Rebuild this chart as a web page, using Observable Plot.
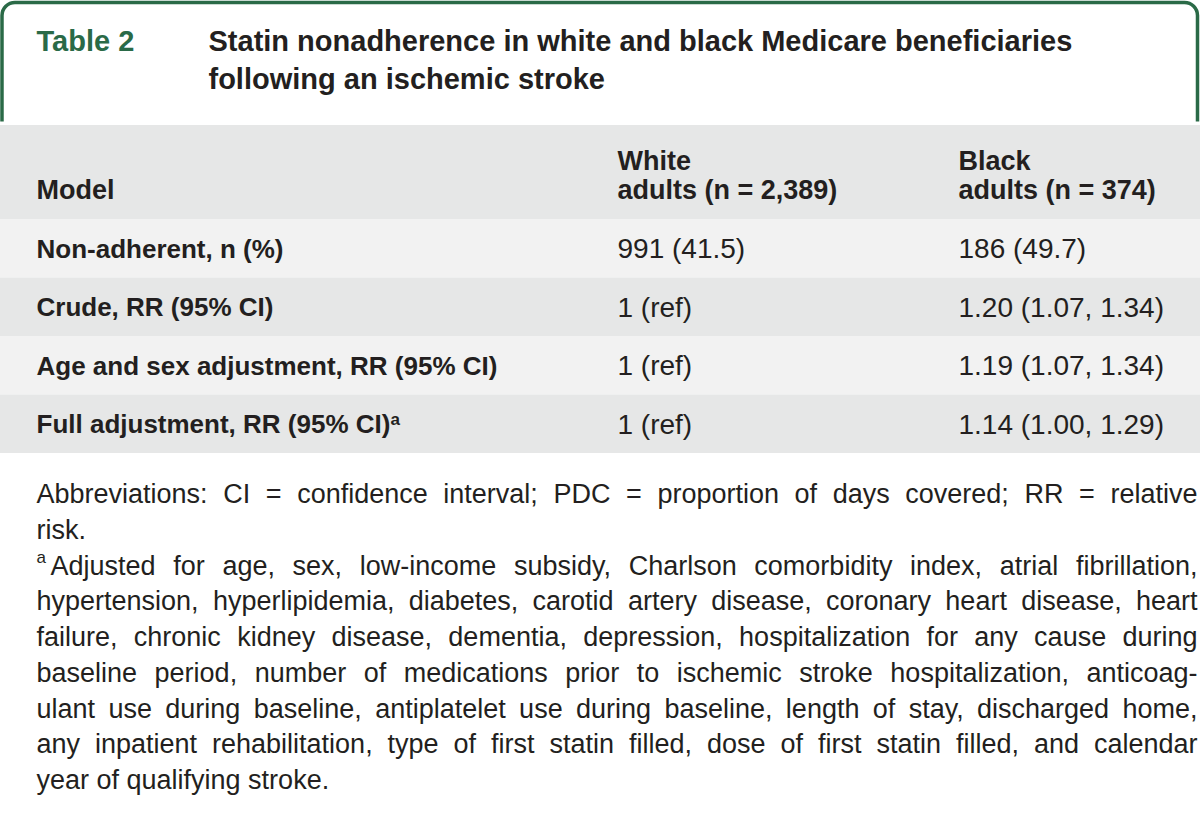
<!DOCTYPE html>
<html>
<head>
<meta charset="utf-8">
<script src="https://cdn.jsdelivr.net/npm/d3@7"></script>
<script src="https://cdn.jsdelivr.net/npm/@observablehq/plot@0.6"></script>
<style>
  html, body { margin: 0; padding: 0; background: #ffffff; }
  #chart svg { display: block; }
</style>
</head>
<body>
<div id="chart"></div>
<script>
// ---------------- DATA ----------------
const tableNumber = "Table 2";
const titleLines = [
  "Statin nonadherence in white and black Medicare beneficiaries",
  "following an ischemic stroke"
];
const columnHeaders = ["Model", "White\nadults (n = 2,389)", "Black\nadults (n = 374)"];
const rowLabels = [
  "Non-adherent, n (%)",
  "Crude, RR (95% CI)",
  "Age and sex adjustment, RR (95% CI)",
  "Full adjustment, RR (95% CI)"
];
const rowFootnoteMarks = ["", "", "", "a"];
const whiteValues = ["991 (41.5)", "1 (ref)", "1 (ref)", "1 (ref)"];
const blackValues = ["186 (49.7)", "1.20 (1.07, 1.34)", "1.19 (1.07, 1.34)", "1.14 (1.00, 1.29)"];
const abbreviationLines = [
  "Abbreviations: CI = confidence interval; PDC = proportion of days covered; RR = relative",
  "risk."
];
const adjustmentMark = "a";
const adjustmentLines = [
  "Adjusted for age, sex, low-income subsidy, Charlson comorbidity index, atrial fibrillation,",
  "hypertension, hyperlipidemia, diabetes, carotid artery disease, coronary heart disease, heart",
  "failure, chronic kidney disease, dementia, depression, hospitalization for any cause during",
  "baseline period, number of medications prior to ischemic stroke hospitalization, anticoag-",
  "ulant use during baseline, antiplatelet use during baseline, length of stay, discharged home,",
  "any inpatient rehabilitation, type of first statin filled, dose of first statin filled, and calendar",
  "year of qualifying stroke."
];

// ---------------- LAYOUT / STYLE ----------------
const W = 1200, H = 825;
const L = {
  boxX1: 2, boxX2: 1197.5, boxY1: 2.5, boxY2: 170, boxR: 13,
  gapY1: 121.5, gapY2: 125,
  tableY1: 125, headerY2: 219, rowH: 58.5,
  colX: [36, 617, 958],
  titleNumX: 36, titleX: 208, titleY: 41, titleLineH: 38.5,
  headerLastY: 190, headerLineH: 29,
  textRight: 1197,
  footX: 36, footFirstY: 494, footLineH: 35.75, footAdjX: 50
};
const C = {
  green: "#2a6a47", ink: "#231f20", gray: "#e6e7e7", light: "#f2f2f2", white: "#ffffff"
};
const FONT = "'Liberation Sans', Arial, Helvetica, sans-serif";

// ---------------- TABLES BUILT FROM DATA ----------------
const rowTop = i => L.headerY2 + i * L.rowH;
const bands = [{y1: L.tableY1, y2: L.headerY2, fill: C.gray}]
  .concat(rowLabels.map((d, i) => ({y1: rowTop(i), y2: rowTop(i + 1), fill: i % 2 === 0 ? C.light : C.gray})));

const headerCells = [];
columnHeaders.forEach((h, c) => {
  const lines = h.split("\n");
  lines.forEach((t, k) => headerCells.push({text: t, x: L.colX[c], y: L.headerLastY - (lines.length - 1 - k) * L.headerLineH}));
});

const labelCells = rowLabels.map((t, i) => ({text: t, mark: rowFootnoteMarks[i], x: L.colX[0], y: rowTop(i) + L.rowH / 2 + 0.5}));
const valueCells = [];
rowLabels.forEach((_, i) => {
  valueCells.push({text: whiteValues[i], x: L.colX[1], y: rowTop(i) + L.rowH / 2 + 0.5});
  valueCells.push({text: blackValues[i], x: L.colX[2], y: rowTop(i) + L.rowH / 2 + 0.5});
});

const titleCells = titleLines.map((t, k) => ({text: t, x: L.titleX, y: L.titleY + k * L.titleLineH}));

const footLines = [];
abbreviationLines.forEach((t, k) => footLines.push({text: t, x: L.footX, justify: k < abbreviationLines.length - 1}));
adjustmentLines.forEach((t, k) => footLines.push({text: t, x: k === 0 ? L.footAdjX : L.footX, justify: k < adjustmentLines.length - 1}));
footLines.forEach((d, i) => d.y = L.footFirstY + i * L.footLineH);
const adjMarkCell = [{text: adjustmentMark, x: L.footX, y: L.footFirstY + abbreviationLines.length * L.footLineH - 8}];

// ---------------- PLOT ----------------
const chart = Plot.plot({
  width: W, height: H,
  margin: 0,
  x: {type: "linear", domain: [0, W], range: [0, W], axis: null},
  y: {type: "linear", domain: [0, H], range: [0, H], axis: null},
  style: {fontFamily: FONT, background: "#ffffff", color: C.ink},
  marks: [
    // title box
    Plot.rect([{}], {x1: () => L.boxX1, x2: () => L.boxX2, y1: () => L.boxY1, y2: () => L.boxY2,
      fill: C.white, stroke: C.green, strokeWidth: 3.5, rx: L.boxR}),
    Plot.rect([{}], {x1: () => 0, x2: () => W, y1: () => L.gapY1, y2: () => L.gapY2, fill: C.white}),
    // table bands
    Plot.rect(bands, {x1: () => 0, x2: () => W, y1: "y1", y2: "y2", fill: d => d.fill}),
    // title
    Plot.text([{text: tableNumber, x: L.titleNumX, y: L.titleY}], {x: "x", y: "y", text: "text",
      textAnchor: "start", lineAnchor: "middle", fontSize: 29, fontWeight: "bold", fill: C.green}),
    Plot.text(titleCells, {x: "x", y: "y", text: "text",
      textAnchor: "start", lineAnchor: "middle", fontSize: 29, fontWeight: "bold", fill: C.ink}),
    // header
    Plot.text(headerCells, {x: "x", y: "y", text: "text",
      textAnchor: "start", lineAnchor: "middle", fontSize: 27, fontWeight: "bold", fill: C.ink}),
    // row labels
    Plot.text(labelCells, {x: "x", y: "y", text: "text",
      textAnchor: "start", lineAnchor: "middle", fontSize: 26, fontWeight: "bold", fill: C.ink}),
    // values
    Plot.text(valueCells, {x: "x", y: "y", text: "text",
      textAnchor: "start", lineAnchor: "middle", fontSize: 28, fill: C.ink}),
    // footnotes
    Plot.text(footLines, {x: "x", y: "y", text: "text",
      textAnchor: "start", lineAnchor: "middle", fontSize: 27, fill: C.ink}),
    Plot.text(adjMarkCell, {x: "x", y: "y", text: "text",
      textAnchor: "start", lineAnchor: "middle", fontSize: 17, fill: C.ink})
  ]
});
document.getElementById("chart").appendChild(chart);

// post-process by matching text content
const allTexts = Array.from(chart.querySelectorAll("text"));
// superscript footnote marks on row labels
labelCells.filter(d => d.mark).forEach(d => {
  allTexts.filter(t => t.textContent === d.text).forEach(t => {
    d3.select(t).append("tspan").attr("dy", "-0.45em").attr("font-size", "17px").attr("font-weight", "bold").text(d.mark);
  });
});
// justify footnote lines by word spacing
footLines.filter(d => d.justify).forEach(d => {
  allTexts.filter(t => t.textContent === d.text).forEach(t => {
    const natural = t.getComputedTextLength();
    const spaces = (d.text.match(/ /g) || []).length;
    if (spaces > 0) {
      const ws = (L.textRight - d.x - natural) / spaces;
      t.style.wordSpacing = ws.toFixed(2) + "px";
    }
  });
});
</script>
</body>
</html>
